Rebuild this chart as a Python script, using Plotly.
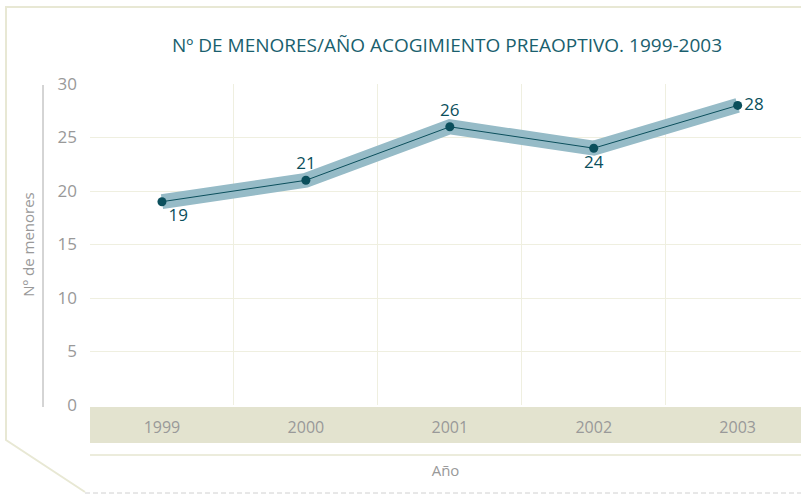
import plotly.graph_objects as go

years = ["1999", "2000", "2001", "2002", "2003"]
values = [19, 21, 26, 24, 28]
label_pos = ["bottom right", "top center", "top center", "bottom center", "middle right"]
y_ticks = [0, 5, 10, 15, 20, 25, 30]

xs = list(range(len(years)))
dark = "#0b4f5c"
band = "#96bbc7"
beige = "#e8e8d4"
grid = "#efefe0"

fig = go.Figure()
fig.add_trace(go.Scatter(x=xs, y=values, mode="lines",
                         line=dict(color=band, width=15), hoverinfo="skip", showlegend=False))
fig.add_trace(go.Scatter(x=xs, y=values, mode="lines+markers+text",
                         line=dict(color=dark, width=1),
                         marker=dict(color=dark, size=9),
                         text=[str(v) for v in values], textposition=label_pos,
                         textfont=dict(color=dark, size=17, family="Open Sans", weight=500),
                         showlegend=False))

W, H = 801, 494
l, r, t, b = 90, 0, 84, 89
pw, ph = W - l - r, H - t - b
def px(x):
    return (x - l) / pw
def py(y):
    return (H - b - y) / ph

shapes = [
    dict(type="rect", xref="paper", yref="paper", x0=0, x1=1, y0=py(443), y1=py(407),
         fillcolor="#e3e3cf", line=dict(width=0), layer="below"),
    dict(type="line", xref="paper", yref="paper", x0=0, x1=1, y0=py(455), y1=py(455),
         line=dict(color="#ececdc", width=2)),
    dict(type="line", xref="paper", yref="paper", x0=px(43), x1=px(43), y0=py(407), y1=py(85),
         line=dict(color="#aaaaaa", width=1)),
    dict(type="path", xref="paper", yref="paper",
         path=f"M {px(801)},{py(7)} L {px(6)},{py(7)} L {px(6)},{py(440)} L {px(85)},{py(492)}",
         line=dict(color=beige, width=2)),
    dict(type="line", xref="paper", yref="paper", x0=px(85), x1=px(801), y0=py(493), y1=py(493),
         line=dict(color="#d0d0d0", width=1, dash="5px,3px")),
]

fig.update_layout(
    width=W, height=H,
    margin=dict(l=l, r=r, t=t, b=b, autoexpand=False),
    paper_bgcolor="white", plot_bgcolor="white",
    font=dict(family="Open Sans", color="#999999"),
    title=dict(text="Nº DE MENORES/AÑO ACOGIMIENTO PREAOPTIVO. 1999-2003",
               x=px(447), xref="paper", xanchor="center", y=1 - 45 / H, yanchor="middle",
               font=dict(size=19, color="#1a5f6e", family="Open Sans")),
    xaxis=dict(range=[-0.5, 4.44], tickvals=xs, ticktext=years, showgrid=False,
               zeroline=False, showline=False, ticks="", ticklabelstandoff=11,
               tickfont=dict(size=16, color="#999999"), automargin=False,
               minor=dict(tickvals=[-0.5, 0.5, 1.5, 2.5, 3.5], showgrid=True,
                          gridcolor=grid, gridwidth=1, ticks=""),
               title=dict(text="Año", font=dict(size=15, color="#999999"), standoff=28),
               fixedrange=True),
    yaxis=dict(range=[0, 30], tickvals=y_ticks, showgrid=True, gridcolor=grid,
               zeroline=False, showline=False, ticks="", ticklabelstandoff=12,
               tickfont=dict(size=17, color="#999999"), automargin=False,
               title=dict(text="Nº de menores", font=dict(size=15, color="#999999"), standoff=19),
               fixedrange=True),
    shapes=shapes,
)

fig.write_html("out.html", config={"displayModeBar": False},
               post_script="document.body.style.margin='0';document.body.style.overflow='hidden';")
